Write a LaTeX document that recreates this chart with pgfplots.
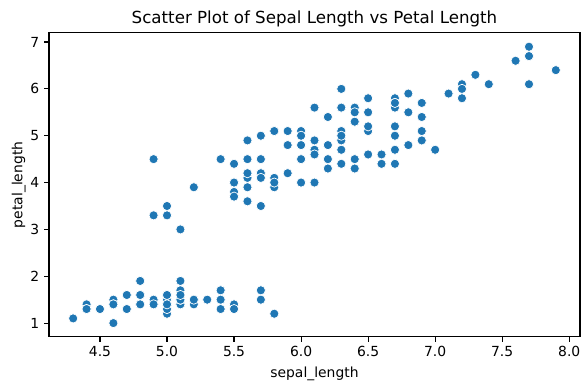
\documentclass[border=0pt]{standalone}
\usepackage{fontspec}
\setmainfont{DejaVu Sans}
\usepackage{pgfplots}
\pgfplotsset{compat=1.18}
\definecolor{tabblue}{HTML}{1F77B4}
\begin{document}
\begin{tikzpicture}
\path[use as bounding box] (-35.3pt,-38.2pt) rectangle (388.1pt,242.6pt);
\begin{axis}[
  scale only axis, width=382.3pt, height=218.9pt,
  xmin=4.12, xmax=8.08, ymin=0.705, ymax=7.195,
  xtick={4.5,5.0,5.5,6.0,6.5,7.0,7.5,8.0},
  ytick={1,2,3,4,5,6,7},
  xticklabel style={/pgf/number format/.cd, fixed, fixed zerofill, precision=1},
  /pgf/number format/assume math mode=true,
  tick align=outside, major tick length=3.5pt,
  tick style={black, line width=0.8pt},
  axis line style={line width=0.8pt},
  xtick pos=bottom, ytick pos=left,
  ticklabel style={font=\fontsize{10}{12}\selectfont},
  xlabel={sepal\_length}, ylabel={petal\_length},
  label style={font=\fontsize{10}{12}\selectfont},
  ylabel style={yshift=-3.5pt},
  title={Scatter Plot of Sepal Length vs Petal Length},
  title style={font=\fontsize{12}{14}\selectfont, yshift=-5pt},
]
\addplot[only marks, mark=*, mark size=3.3pt, mark options={fill=tabblue, draw=white, line width=0.5pt}] coordinates {
(5.1,1.4)(4.9,1.4)(4.7,1.3)(4.6,1.5)(5.0,1.4)(5.4,1.7)(4.6,1.4)(5.0,1.5)(4.4,1.4)(4.9,1.5)
(5.4,1.5)(4.8,1.6)(4.8,1.4)(4.3,1.1)(5.8,1.2)(5.7,1.5)(5.4,1.3)(5.1,1.4)(5.7,1.7)(5.1,1.5)
(5.4,1.7)(5.1,1.5)(4.6,1.0)(5.1,1.7)(4.8,1.9)(5.0,1.6)(5.0,1.6)(5.2,1.5)(5.2,1.4)(4.7,1.6)
(4.8,1.6)(5.4,1.5)(5.2,1.5)(5.5,1.4)(4.9,1.5)(5.0,1.2)(5.5,1.3)(4.9,1.4)(4.4,1.3)(5.1,1.5)
(5.0,1.3)(4.5,1.3)(4.4,1.3)(5.0,1.6)(5.1,1.9)(4.8,1.4)(5.1,1.6)(4.6,1.4)(5.3,1.5)(5.0,1.4)
(7.0,4.7)(6.4,4.5)(6.9,4.9)(5.5,4.0)(6.5,4.6)(5.7,4.5)(6.3,4.7)(4.9,3.3)(6.6,4.6)(5.2,3.9)
(5.0,3.5)(5.9,4.2)(6.0,4.0)(6.1,4.7)(5.6,3.6)(6.7,4.4)(5.6,4.5)(5.8,4.1)(6.2,4.5)(5.6,3.9)
(5.9,4.8)(6.1,4.0)(6.3,4.9)(6.1,4.7)(6.4,4.3)(6.6,4.4)(6.8,4.8)(6.7,5.0)(6.0,4.5)(5.7,3.5)
(5.5,3.8)(5.5,3.7)(5.8,3.9)(6.0,5.1)(5.4,4.5)(6.0,4.5)(6.7,4.7)(6.3,4.4)(5.6,4.1)(5.5,4.0)
(5.5,4.4)(6.1,4.6)(5.8,4.0)(5.0,3.3)(5.6,4.2)(5.7,4.2)(5.7,4.2)(6.2,4.3)(5.1,3.0)(5.7,4.1)
(6.3,6.0)(5.8,5.1)(7.1,5.9)(6.3,5.6)(6.5,5.8)(7.6,6.6)(4.9,4.5)(7.3,6.3)(6.7,5.8)(7.2,6.1)
(6.5,5.1)(6.4,5.3)(6.8,5.5)(5.7,5.0)(5.8,5.1)(6.4,5.3)(6.5,5.5)(7.7,6.7)(7.7,6.9)(6.0,5.0)
(6.9,5.7)(5.6,4.9)(7.7,6.7)(6.3,4.9)(6.7,5.7)(7.2,6.0)(6.2,4.8)(6.1,4.9)(6.4,5.6)(7.2,5.8)
(7.4,6.1)(7.9,6.4)(6.4,5.6)(6.3,5.1)(6.1,5.6)(7.7,6.1)(6.3,5.6)(6.4,5.5)(6.0,4.8)(6.9,5.4)
(6.7,5.6)(6.9,5.1)(5.8,5.1)(6.8,5.9)(6.7,5.7)(6.7,5.2)(6.3,5.0)(6.5,5.2)(6.2,5.4)(5.9,5.1)
};
\end{axis}
\end{tikzpicture}
\end{document}
